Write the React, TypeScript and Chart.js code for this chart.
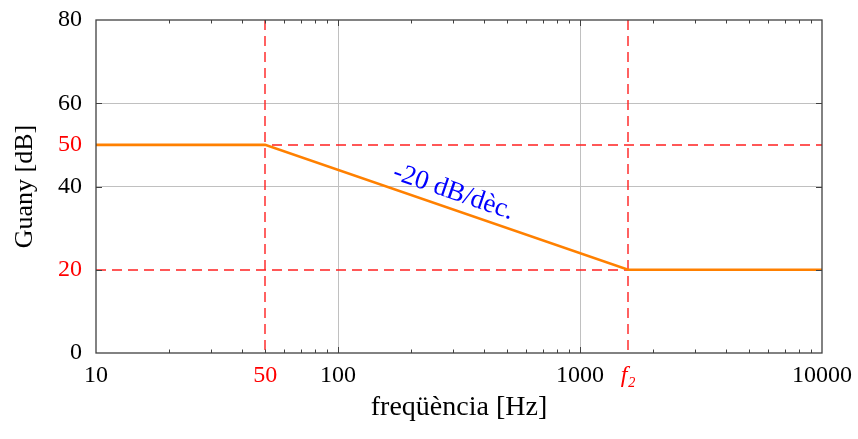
import React, { useEffect, useRef } from 'react';
import { Chart, registerables } from 'chart.js';

Chart.register(...registerables);

// ---- data ----
const frequencies = [10, 50, 1581, 10000];
const gains = [50, 50, 20, 20];
const xTickValues = [10, 50, 100, 1000, 1581, 10000];
const xTickLabels = ['10', '50', '100', '1000', 'f₂', '10000'];
const yTickValues = [0, 20, 40, 50, 60, 80];
const markedFrequencies = [50, 1581];
const markedGains = [50, 20];
const minorDecades = [10, 100, 1000];
const minorSteps = [2, 3, 4, 5, 6, 7, 8, 9];
const slopeLabel = '-20 dB/dèc.';
const xTitle = 'freqüència [Hz]';
const yTitle = 'Guany [dB]';

const FONT = "'Liberation Serif', 'DejaVu Serif', serif";
const RED = '#ff2020';
const LABEL_RED = '#ff0000';
const BLUE = '#0000ff';
const ORANGE = '#ff8000';
const AXIS = '#404040';
const GRID = '#c0c0c0';

const overlay = {
  id: 'overlay',
  beforeDatasetsDraw(chart: any) {
    const { ctx, chartArea: a, scales } = chart;
    const x = scales.x;
    const y = scales.y;
    ctx.save();
    ctx.strokeStyle = RED;
    ctx.lineWidth = 1.4;
    ctx.setLineDash([10, 6]);
    markedFrequencies.forEach((f) => {
      const px = Math.round(x.getPixelForValue(f));
      ctx.beginPath();
      ctx.moveTo(px, a.top);
      ctx.lineTo(px, a.bottom);
      ctx.stroke();
    });
    markedGains.forEach((g) => {
      const py = Math.round(y.getPixelForValue(g));
      ctx.beginPath();
      ctx.moveTo(a.left, py);
      ctx.lineTo(a.right, py);
      ctx.stroke();
    });
    ctx.restore();
  },
  afterDatasetsDraw(chart: any) {
    const { ctx, chartArea: a, scales } = chart;
    const x = scales.x;
    const y = scales.y;
    ctx.save();
    // inward tick marks
    ctx.strokeStyle = AXIS;
    ctx.lineWidth = 1;
    const vTick = (v: number, len: number) => {
      const px = Math.round(x.getPixelForValue(v)) + 0.5;
      ctx.beginPath();
      ctx.moveTo(px, a.bottom);
      ctx.lineTo(px, a.bottom - len);
      ctx.moveTo(px, a.top);
      ctx.lineTo(px, a.top + len);
      ctx.stroke();
    };
    minorDecades.forEach((d) => minorSteps.forEach((s) => vTick(d * s, 3.5)));
    [100, 1000].forEach((v) => vTick(v, 6));
    [20, 40, 60].forEach((v) => {
      const py = Math.round(y.getPixelForValue(v)) + 0.5;
      ctx.beginPath();
      ctx.moveTo(a.left, py);
      ctx.lineTo(a.left + 6, py);
      ctx.moveTo(a.right, py);
      ctx.lineTo(a.right - 6, py);
      ctx.stroke();
    });
    // frame
    ctx.lineWidth = 1.3;
    ctx.strokeRect(a.left, a.top, a.right - a.left, a.bottom - a.top);

    // slope annotation
    const x1 = x.getPixelForValue(frequencies[1]);
    const y1 = y.getPixelForValue(gains[1]);
    const x2 = x.getPixelForValue(frequencies[2]);
    const y2 = y.getPixelForValue(gains[2]);
    const ang = Math.atan2(y2 - y1, x2 - x1);
    const mx = (x1 + x2) / 2 + Math.sin(ang) * 16 + 1.5;
    const my = (y1 + y2) / 2 - Math.cos(ang) * 16;
    ctx.translate(mx, my);
    ctx.rotate(ang);
    ctx.fillStyle = BLUE;
    ctx.font = `27px ${FONT}`;
    ctx.textAlign = 'center';
    ctx.textBaseline = 'middle';
    ctx.fillText(slopeLabel, 0, 0);
    ctx.restore();
  },
};

export default function App() {
  const ref = useRef<HTMLCanvasElement | null>(null);

  useEffect(() => {
    if (!ref.current) return;
    const chart = new Chart(ref.current, {
      type: 'line',
      data: {
        datasets: [
          {
            data: frequencies.map((f, i) => ({ x: f, y: gains[i] })),
            borderColor: ORANGE,
            borderWidth: 2.6,
            pointRadius: 0,
            fill: false,
            tension: 0,
          },
        ],
      },
      options: {
        animation: false,
        responsive: false,
        devicePixelRatio: 1,
        layout: { padding: { left: 0, right: 36, top: 20, bottom: 0 } },
        plugins: { legend: { display: false }, tooltip: { enabled: false } },
        scales: {
          x: {
            type: 'logarithmic',
            min: 10,
            max: 10000,
            afterBuildTicks: (s: any) => {
              s.ticks = xTickValues.map((v) => ({ value: v }));
            },
            afterFit: (s: any) => {
              s.height = 86;
              s.paddingLeft = 0;
              s.paddingRight = 0;
            },
            ticks: {
              autoSkip: false,
              maxRotation: 0,
              padding: 8,
              color: (c: any) => (markedFrequencies.includes(c.tick?.value) ? LABEL_RED : '#000'),
              font: (c: any) => ({
                family: FONT,
                size: 24,
                style: c.tick?.value === frequencies[2] ? 'italic' : 'normal',
              }),
              callback: (v: any) => {
                const i = xTickValues.indexOf(Number(v));
                return i >= 0 ? xTickLabels[i] : '';
              },
            },
            grid: {
              drawTicks: false,
              lineWidth: 1,
              color: (c: any) => {
                const v = c.tick?.value;
                if (v === 100 || v === 1000) return GRID;
                return 'rgba(0,0,0,0)';
              },
            },
            border: { display: false },
            title: {
              display: true,
              text: xTitle,
              color: '#000',
              font: { family: FONT, size: 28 },
              padding: { top: 0, bottom: 15 },
            },
          },
          y: {
            type: 'linear',
            min: 0,
            max: 80,
            afterBuildTicks: (s: any) => {
              s.ticks = yTickValues.map((v) => ({ value: v }));
            },
            afterFit: (s: any) => {
              s.width = 96;
              s.paddingTop = 0;
              s.paddingBottom = 0;
            },
            ticks: {
              autoSkip: false,
              padding: 14,
              color: (c: any) => (markedGains.includes(c.tick?.value) ? LABEL_RED : '#000'),
              font: { family: FONT, size: 24 },
              callback: (v: any) => String(v),
            },
            grid: {
              drawTicks: false,
              lineWidth: 1,
              color: (c: any) => {
                const v = c.tick?.value;
                if (v === 40 || v === 60) return GRID;
                return 'rgba(0,0,0,0)';
              },
            },
            border: { display: false },
            title: {
              display: true,
              text: yTitle,
              color: '#000',
              font: { family: FONT, size: 26 },
              padding: { top: 10, bottom: 0 },
            },
          },
        },
      } as any,
      plugins: [overlay],
    });
    return () => chart.destroy();
  }, []);

  return (
    <div style={{ position: 'fixed', left: 0, top: 0, width: 858, height: 439, background: '#fff' }}>
      <canvas ref={ref} width={858} height={439} style={{ width: 858, height: 439, display: 'block' }} />
    </div>
  );
}
